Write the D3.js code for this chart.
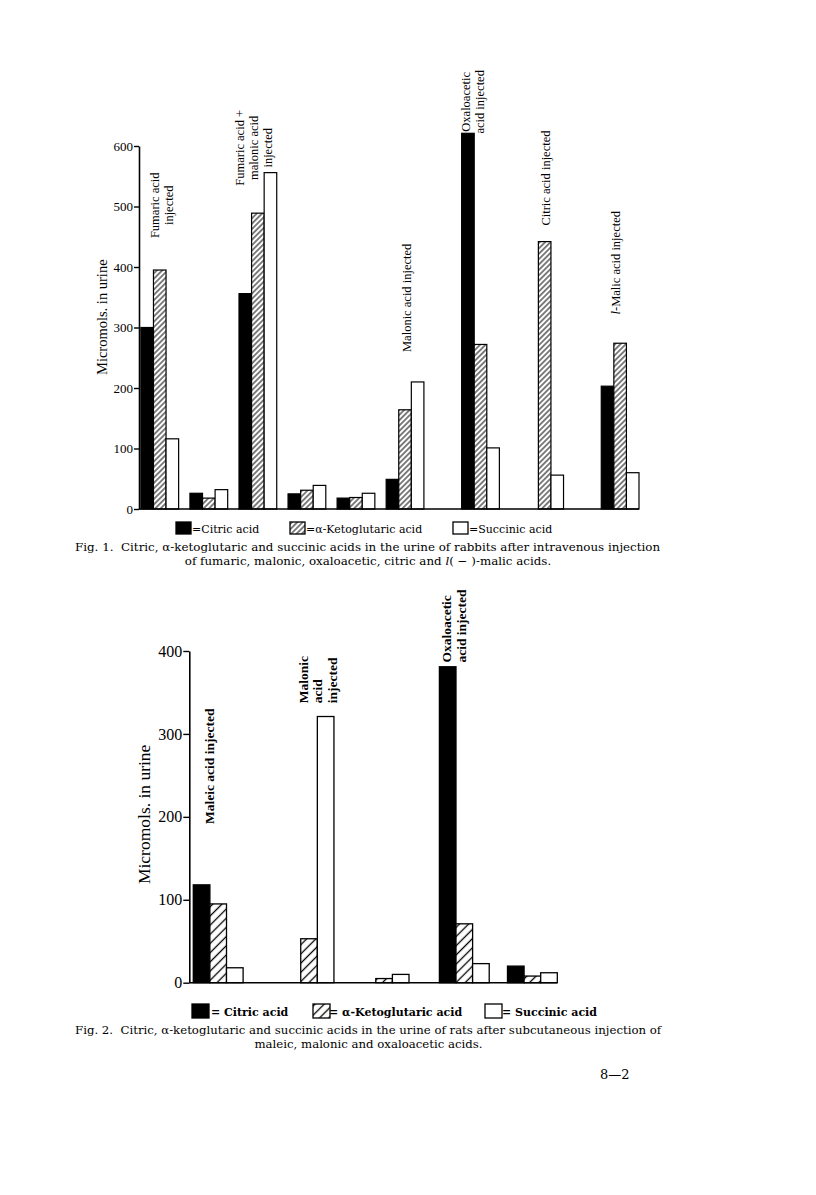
<!DOCTYPE html>
<html>
<head>
<meta charset="utf-8">
<script src="https://cdn.jsdelivr.net/npm/d3@7"></script>
<style>
  body { margin: 0; background: #fff; }
  svg { display: block; }
</style>
</head>
<body>
<svg id="page" width="816" height="1195"></svg>
<script>
// ---- data (micromols in urine) ----
const seriesNames = ["Citric acid", "α-Ketoglutaric acid", "Succinic acid"];

// Fig. 1 - rabbits, intravenous injection
const fig1Labels = [
  ["Fumaric acid", "injected"],
  [],
  ["Fumaric acid +", "malonic acid", "injected"],
  [],
  [],
  ["Malonic acid injected"],
  ["Oxaloacetic", "acid injected"],
  ["Citric acid injected"],
  ["_l_-Malic acid injected"]
];
const fig1Citric   = [300, 26, 356, 25, 18, 49, 621, 0, 203];
const fig1Keto     = [395, 18, 489, 31, 19, 164, 272, 442, 274];
const fig1Succinic = [116, 32, 556, 39, 26, 210, 101, 56, 60];
const fig1Ticks    = [0, 100, 200, 300, 400, 500, 600];

// Fig. 2 - rats, subcutaneous injection
const fig2Labels = [
  ["Maleic acid injected"],
  ["Malonic", "acid", "injected"],
  [],
  ["Oxaloacetic", "acid injected"],
  []
];
const fig2Citric   = [118, 0, 0, 381, 20];
const fig2Keto     = [95, 53, 5, 71, 8];
const fig2Succinic = [18, 321, 10, 23, 12];
const fig2Ticks    = [0, 100, 200, 300, 400];

const serif = "'Liberation Serif', 'Times New Roman', serif";
const capFont = "'DejaVu Serif', serif";

const svg = d3.select("#page");
svg.append("rect").attr("width", 816).attr("height", 1195).attr("fill", "#fff");
const defs = svg.append("defs");

function hatch(id, gap, sw) {
  const p = defs.append("pattern").attr("id", id)
    .attr("patternUnits", "userSpaceOnUse")
    .attr("width", gap).attr("height", gap)
    .attr("patternTransform", "rotate(45)");
  p.append("rect").attr("width", gap).attr("height", gap).attr("fill", "#fff");
  p.append("line").attr("x1", gap / 2).attr("x2", gap / 2).attr("y1", 0).attr("y2", gap)
    .attr("stroke", "#000").attr("stroke-width", sw);
}
hatch("hatch1", 3.8, 1);
hatch("hatch2", 6.5, 1.3);

// "_l_" marks an italic piece
function rich(sel, str) {
  str.split("_").forEach((part, k) => {
    if (!part) return;
    const t = sel.append("tspan").text(part);
    if (k % 2 === 1) t.attr("font-style", "italic");
  });
}

function drawFigure(cfg) {
  const g = svg.append("g");
  const n = cfg.citric.length;

  // group starts in bar-width units
  const starts = [];
  let u = cfg.lead;
  for (let i = 0; i < n; i++) {
    starts.push(u);
    u += 3 + (i < n - 1 ? cfg.gaps[i] : 0);
  }
  const x = d3.scaleLinear().domain([0, u]).range([cfg.left, cfg.right]);
  const y = d3.scaleLinear().domain([0, cfg.yMax]).range([cfg.bottom, cfg.top]);
  const bw = x(1) - x(0);

  const fills = ["#000", `url(#${cfg.hatchId})`, "#fff"];
  [cfg.citric, cfg.keto, cfg.succinic].forEach((vals, s) => {
    g.selectAll(null)
      .data(vals.map((v, i) => ({ v, i })).filter(d => d.v > 0))
      .enter().append("rect")
      .attr("x", d => x(starts[d.i] + s))
      .attr("width", bw)
      .attr("y", d => y(d.v))
      .attr("height", d => y(0) - y(d.v))
      .attr("fill", fills[s])
      .attr("stroke", "#000")
      .attr("stroke-width", cfg.barStroke);
  });

  // axes
  const ax = g.append("g")
    .attr("transform", `translate(${cfg.left},0)`)
    .call(d3.axisLeft(y)
      .tickValues(cfg.ticks)
      .tickSize(cfg.tickSize)
      .tickSizeOuter(0)
      .tickPadding(1)
      .tickFormat(d3.format("d")));
  ax.attr("font-family", serif).attr("font-size", cfg.tickFont);
  ax.select(".domain").attr("stroke-width", 1.6);
  ax.selectAll(".tick line").attr("stroke-width", 1.4);
  ax.selectAll(".tick text").attr("fill", "#000");

  g.append("line")
    .attr("x1", cfg.left).attr("x2", cfg.right)
    .attr("y1", y(0)).attr("y2", y(0))
    .attr("stroke", "#000").attr("stroke-width", 1.6);

  g.append("text")
    .attr("transform", `translate(${cfg.yLabelX},${y(cfg.yLabelAt)}) rotate(-90)`)
    .attr("text-anchor", "middle")
    .attr("font-family", serif)
    .attr("font-size", cfg.yLabelFont)
    .text("Micromols. in urine");

  // labels over the groups
  cfg.labels.forEach((lines, i) => {
    if (!lines.length) return;
    const spot = cfg.labelSpots[i];
    const t = g.append("text")
      .attr("transform", `translate(${x(starts[i]) + spot.dx},${y(spot.v)}) rotate(-90)`)
      .attr("text-anchor", spot.anchor)
      .attr("font-family", serif)
      .attr("font-size", cfg.labelFont)
      .attr("font-weight", cfg.labelWeight);
    lines.forEach((line, k) => {
      rich(t.append("tspan").attr("x", 0).attr("y", k * cfg.lineGap), line);
    });
  });

  // legend
  const lg = cfg.legend;
  fills.forEach((f, s) => {
    g.append("rect")
      .attr("x", lg.boxX[s]).attr("y", lg.boxY)
      .attr("width", lg.boxW).attr("height", lg.boxH)
      .attr("fill", f).attr("stroke", "#000").attr("stroke-width", 1.3);
    g.append("text")
      .attr("x", lg.textX[s]).attr("y", lg.baseline)
      .attr("font-family", capFont)
      .attr("font-size", lg.font)
      .attr("font-weight", lg.weight)
      .text(lg.sep + seriesNames[s]);
  });

  // caption; first line is sized to the printed width, second centred under it
  const cap = cfg.caption;
  const l1 = g.append("text")
    .attr("x", cap.x1).attr("y", cap.y1)
    .attr("font-family", capFont).attr("font-size", 11)
    .attr("xml:space", "preserve")
    .text(cap.line1);
  const fs = 11 * cap.width1 / l1.node().getComputedTextLength();
  l1.attr("font-size", fs);
  const l2 = g.append("text")
    .attr("x", cap.x1 + cap.width1 / 2).attr("y", cap.y2)
    .attr("text-anchor", "middle")
    .attr("font-family", capFont).attr("font-size", fs);
  rich(l2, cap.line2);
}

drawFigure({
  citric: fig1Citric, keto: fig1Keto, succinic: fig1Succinic,
  labels: fig1Labels, ticks: fig1Ticks, yMax: 600,
  left: 139, right: 639, top: 146, bottom: 509,
  lead: 0.15, gaps: [0.9, 0.9, 0.9, 0.9, 0.9, 3, 2.1, 3],
  hatchId: "hatch1", barStroke: 1.2,
  tickSize: 5, tickFont: 13,
  yLabelX: 107, yLabelAt: 317, yLabelFont: 14.5,
  labelFont: 12.5, labelWeight: "normal", lineGap: 14,
  labelSpots: [
    { v: 502, dx: 18, anchor: "middle" }, null,
    { v: 597, dx: 5, anchor: "middle" }, null, null,
    { v: 349, dx: 25, anchor: "middle" },
    { v: 673, dx: 8, anchor: "middle" },
    { v: 547, dx: 24, anchor: "middle" },
    { v: 407, dx: 19, anchor: "middle" }
  ],
  legend: {
    boxX: [176, 290, 453], boxY: 522, boxW: 15, boxH: 12,
    textX: [192, 306, 469], baseline: 533, font: 11, weight: "normal", sep: "="
  },
  caption: {
    line1: "Fig. 1.  Citric, α-ketoglutaric and succinic acids in the urine of rabbits after intravenous injection",
    x1: 75, y1: 551, width1: 586,
    line2: "of fumaric, malonic, oxaloacetic, citric and _l_( − )-malic acids.",
    y2: 565
  }
});

drawFigure({
  citric: fig2Citric, keto: fig2Keto, succinic: fig2Succinic,
  labels: fig2Labels, ticks: fig2Ticks, yMax: 400,
  left: 189.3, right: 557.3, top: 651, bottom: 982.7,
  lead: 0.24, gaps: [2.47, 1.52, 1.83, 1.1],
  hatchId: "hatch2", barStroke: 1.3,
  tickSize: 6, tickFont: 16,
  yLabelX: 150, yLabelAt: 203, yLabelFont: 17.5,
  labelFont: 13.5, labelWeight: "bold", lineGap: 14.5,
  labelSpots: [
    { v: 261, dx: 21, anchor: "middle" },
    { v: 337, dx: 23.5, anchor: "start" },
    null,
    { v: 386, dx: 12, anchor: "start" },
    null
  ],
  legend: {
    boxX: [192, 313, 485], boxY: 1004, boxW: 17, boxH: 14,
    textX: [211, 329, 502], baseline: 1016, font: 11, weight: "bold", sep: "= "
  },
  caption: {
    line1: "Fig. 2.  Citric, α-ketoglutaric and succinic acids in the urine of rats after subcutaneous injection of",
    x1: 75, y1: 1034, width1: 587,
    line2: "maleic, malonic and oxaloacetic acids.",
    y2: 1048
  }
});

svg.append("text")
  .attr("x", 600).attr("y", 1079)
  .attr("font-family", capFont).attr("font-size", 13)
  .text("8—2");
</script>
</body>
</html>
